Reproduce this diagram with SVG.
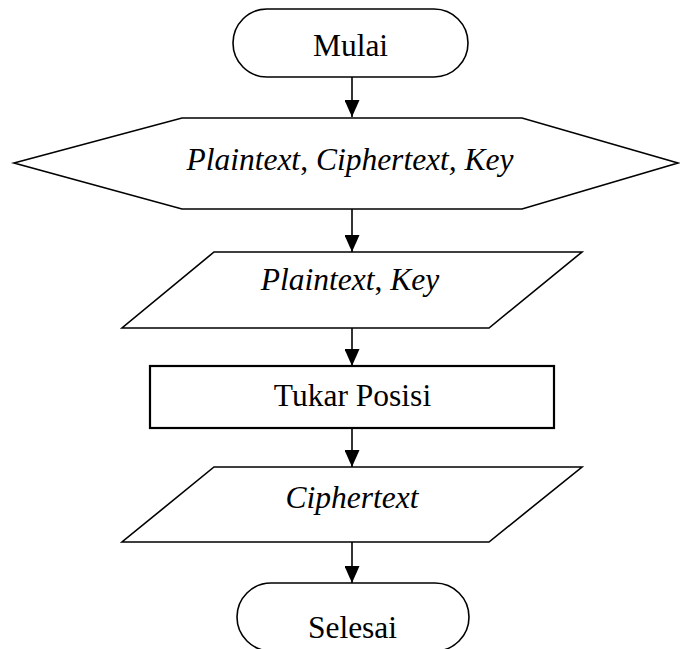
<svg xmlns="http://www.w3.org/2000/svg" width="680" height="649" viewBox="0 0 680 649">
  <defs>
    <style>
      .shape { fill: #ffffff; stroke: #000000; stroke-width: 1.6; stroke-linejoin: miter; }
      .rect { fill: #ffffff; stroke: #000000; stroke-width: 2.2; }
      .lbl { font-family: "Liberation Serif", "Times New Roman", serif; font-size: 31.5px; fill: #000000; text-anchor: middle; }
      .it { font-style: italic; }
      .conn { stroke: #000000; stroke-width: 1.6; fill: none; marker-end: url(#arrow); }
    </style>
    <marker id="arrow" viewBox="0 0 17 15" refX="17" refY="7.5" markerWidth="17" markerHeight="15" markerUnits="userSpaceOnUse" orient="auto">
      <path d="M0,0 L17,7.5 L0,15 Z" fill="#000000"/>
    </marker>
  </defs>
  <rect x="0" y="0" width="680" height="649" fill="#ffffff"/>

  <g id="connectors">
    <line class="conn" x1="352" y1="77" x2="352" y2="117"/>
    <line class="conn" x1="352" y1="209" x2="352" y2="252"/>
    <line class="conn" x1="352" y1="328" x2="352" y2="366"/>
    <line class="conn" x1="352" y1="428" x2="352" y2="467"/>
    <line class="conn" x1="352" y1="542" x2="352" y2="583"/>
  </g>

  <g id="mulai">
    <rect class="shape" x="233" y="9" width="235" height="68" rx="34" ry="34"/>
    <text class="lbl" x="350.5" y="56">Mulai</text>
  </g>

  <g id="input-all">
    <polygon class="shape" points="14,163 182,118 522,118 678,163 522,209 182,209"/>
    <text class="lbl it" x="350" y="170">Plaintext<tspan font-style="normal">,</tspan> Ciphertext, Key</text>
  </g>

  <g id="input-plaintext-key">
    <polygon class="shape" points="214,252 582,252 489,328 122,328"/>
    <text class="lbl it" x="350" y="290">Plaintext<tspan font-style="normal">,</tspan> Key</text>
  </g>

  <g id="tukar-posisi">
    <rect class="rect" x="150" y="366" width="404" height="62"/>
    <text class="lbl" x="352.5" y="406">Tukar Posisi</text>
  </g>

  <g id="output-ciphertext">
    <polygon class="shape" points="214,467 582,467 489,542 122,542"/>
    <text class="lbl it" x="352" y="508">Ciphertext</text>
  </g>

  <g id="selesai">
    <rect class="shape" x="237" y="583" width="232" height="68" rx="34" ry="34"/>
    <text class="lbl" x="352.5" y="638">Selesai</text>
  </g>
</svg>
